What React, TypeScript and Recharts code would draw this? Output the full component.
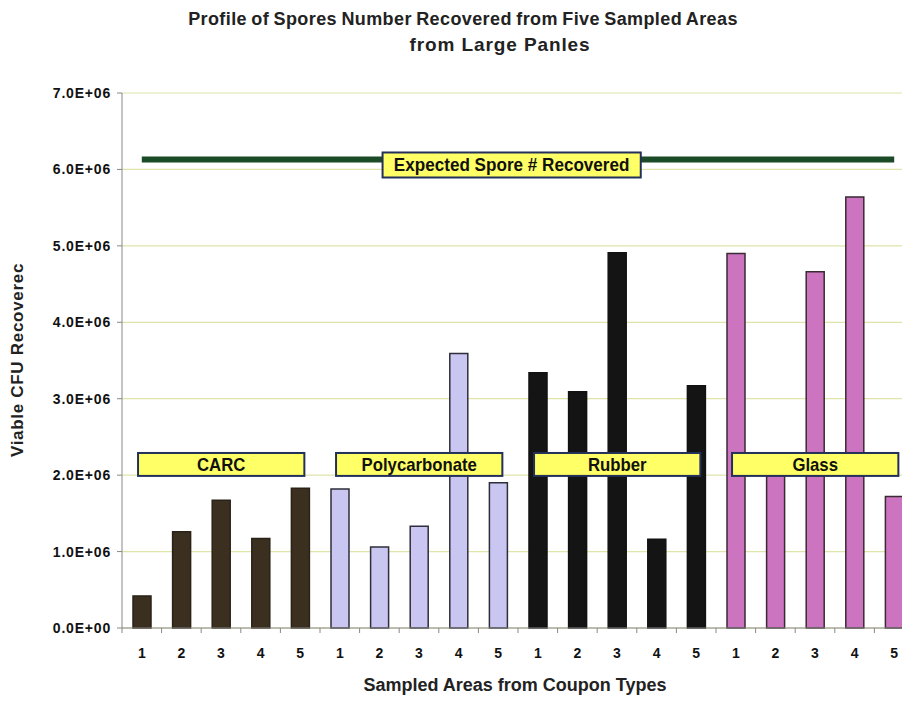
import { Bar, CartesianGrid, Cell, ComposedChart, LabelList, Line, XAxis, YAxis } from "recharts";

const sampleAreas = ["1", "2", "3", "4", "5"];
const couponTypes = ["CARC", "Polycarbonate", "Rubber", "Glass"];
const carcValues = [0.42e6, 1.26e6, 1.67e6, 1.17e6, 1.83e6];
const polycarbonateValues = [1.82e6, 1.06e6, 1.33e6, 3.59e6, 1.9e6];
const rubberValues = [3.34e6, 3.09e6, 4.91e6, 1.16e6, 3.17e6];
const glassValues = [4.9e6, 2.1e6, 4.66e6, 5.64e6, 1.72e6];
const expectedRecovered = 6.13e6;
const yTicks = [0, 1e6, 2e6, 3e6, 4e6, 5e6, 6e6, 7e6];

const fills = ["#3b3020", "#c9c6f2", "#141414", "#cc74c0"];
const strokes = ["#2a2216", "#2e2e3a", "#111111", "#3a2a34"];

const valuesByType = [carcValues, polycarbonateValues, rubberValues, glassValues];

const rows = couponTypes.flatMap((type, g) =>
  sampleAreas.map((area, i) => ({
    key: `${type}-${area}`,
    area,
    group: g,
    value: valuesByType[g][i],
    expected: expectedRecovered,
  }))
);

// layout
const CHART_W = 940;
const Y_AXIS_W = 122;
const RIGHT = 26;
const BAND = (CHART_W - Y_AXIS_W - RIGHT) / rows.length;

const boldFont = "Arial, 'Liberation Sans', sans-serif";

function yLabel(v: number) {
  if (v === 0) return "0.0E+00";
  return (v / 1e6).toFixed(1) + "E+06";
}

function Box({ left, right, top, bottom, text, squeeze }: any) {
  const cx = (left + right) / 2;
  const cy = (top + bottom) / 2;
  return (
    <g>
      <rect x={left} y={top} width={right - left} height={bottom - top} fill="#ffff66" stroke="#23305a" strokeWidth={2} />
      <text
        transform={`translate(${cx},${cy + 6.5}) scale(${squeeze},1)`}
        textAnchor="middle"
        fontFamily={boldFont}
        fontWeight="bold"
        fontSize={18}
        fill="#111"
      >
        {text}
      </text>
    </g>
  );
}

// one label box per coupon type, drawn from the middle bar of each group
function GroupLabel(props: any) {
  const { index, value } = props;
  if (index % 5 !== 2) return null;
  const x = Number(props.x);
  const y = Number(props.y);
  const w = Number(props.width);
  const h = Number(props.height);
  const base = y + h;
  const ppu = h / Number(value);
  const start = x + w / 2 - 2.5 * BAND;
  return (
    <Box
      left={start + 0.4 * BAND}
      right={start + 4.6 * BAND}
      top={base - 2.29e6 * ppu}
      bottom={base - 1.99e6 * ppu}
      text={couponTypes[Math.floor(index / 5)]}
      squeeze={0.93}
    />
  );
}

function ExpectedLabel(props: any) {
  if (props.index !== 9) return null;
  const x = Number(props.x);
  const y = Number(props.y);
  return (
    <Box
      left={x + (6.58 - 9.5) * BAND}
      right={x + (13.1 - 9.5) * BAND}
      top={y - 7}
      bottom={y + 18}
      text="Expected Spore # Recovered"
      squeeze={0.95}
    />
  );
}

function CategoryTick(props: any) {
  const { x, y, index, payload } = props;
  const row = rows[index] ?? rows.find((r) => r.key === payload?.value);
  return (
    <g>
      <line x1={x - BAND / 2} x2={x - BAND / 2} y1={y} y2={y + 5} stroke="#888" />
      {index === rows.length - 1 && <line x1={x + BAND / 2} x2={x + BAND / 2} y1={y} y2={y + 5} stroke="#888" />}
      <text
        x={x}
        y={y + 30}
        textAnchor="middle"
        fontFamily={boldFont}
        fontWeight="bold"
        fontSize={14}
        fill="#111"
      >
        {row ? row.area : ""}
      </text>
    </g>
  );
}

export default function App() {
  return (
    <div style={{ margin: -8, width: 910, height: 703, overflow: "hidden", position: "relative", background: "#fff" }}>
      <div
        style={{
          position: "absolute",
          top: 9,
          left: 463,
          transform: "translateX(-50%)",
          whiteSpace: "nowrap",
          fontFamily: boldFont,
          fontWeight: "bold",
          fontSize: 18,
          letterSpacing: 0.4,
          wordSpacing: -1,
          color: "#222",
        }}
      >
        Profile of Spores Number Recovered from Five Sampled Areas
      </div>
      <div
        style={{
          position: "absolute",
          top: 34,
          left: 500,
          transform: "translateX(-50%)",
          whiteSpace: "nowrap",
          fontFamily: boldFont,
          fontWeight: "bold",
          fontSize: 19,
          letterSpacing: 0.9,
          color: "#222",
        }}
      >
        from Large Panles
      </div>
      <div
        style={{
          position: "absolute",
          left: 18,
          top: 360,
          transform: "translate(-50%, -50%) rotate(-90deg)",
          whiteSpace: "nowrap",
          fontFamily: boldFont,
          fontWeight: "bold",
          fontSize: 17,
          letterSpacing: 0.7,
          color: "#222",
        }}
      >
        Viable CFU Recoverec
      </div>
      <div
        style={{
          position: "absolute",
          left: 515,
          top: 675,
          transform: "translateX(-50%)",
          whiteSpace: "nowrap",
          fontFamily: boldFont,
          fontWeight: "bold",
          fontSize: 18,
          lineHeight: "20px",
          color: "#222",
        }}
      >
        Sampled Areas from Coupon Types
      </div>
      <div style={{ position: "absolute", left: 0, top: 0 }}>
        <ComposedChart
          width={CHART_W}
          height={670}
          data={rows}
          margin={{ top: 93, right: RIGHT, bottom: 0, left: 0 }}
          barCategoryGap={0}
        >
          <CartesianGrid vertical={false} stroke="#dfe4a8" strokeWidth={1.2} />
          <XAxis
            dataKey="key"
            interval={0}
            axisLine={{ stroke: "#888" }}
            tickLine={false}
            tickSize={0}
            tickMargin={0}
            height={42}
            tick={<CategoryTick />}
          />
          <YAxis
            domain={[0, 7e6]}
            ticks={yTicks}
            tickFormatter={yLabel}
            width={Y_AXIS_W}
            axisLine={{ stroke: "#888" }}
            tickLine={{ stroke: "#888" }}
            tickSize={5}
            tickMargin={6}
            tick={{ fontFamily: boldFont, fontWeight: "bold", fontSize: 14, fill: "#111", letterSpacing: 0.8 }}
          />
          <Bar dataKey="value" barSize={18} isAnimationActive={false} strokeWidth={1.5}>
            {rows.map((r) => (
              <Cell key={r.key} fill={fills[r.group]} stroke={strokes[r.group]} />
            ))}
            <LabelList dataKey="value" content={GroupLabel} />
          </Bar>
          <Line
            dataKey="expected"
            stroke="#1a4a26"
            strokeWidth={6}
            dot={false}
            activeDot={false}
            isAnimationActive={false}
          >
            <LabelList dataKey="expected" content={ExpectedLabel} />
          </Line>
        </ComposedChart>
      </div>
    </div>
  );
}
